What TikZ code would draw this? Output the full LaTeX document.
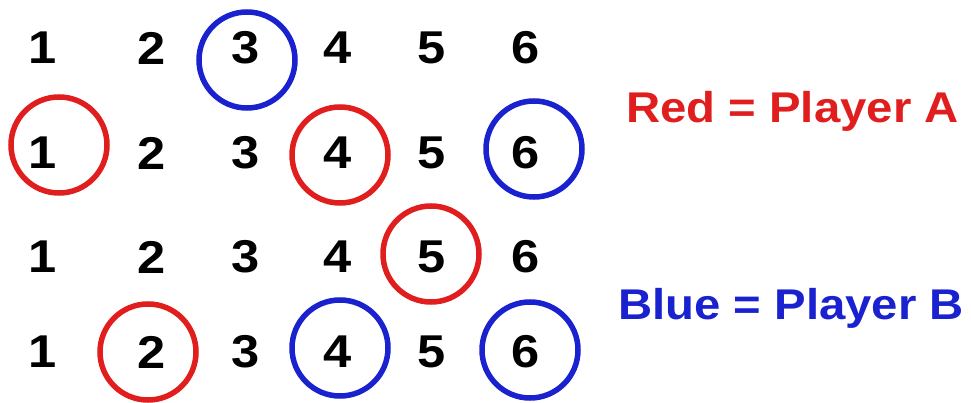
\documentclass[tikz,border=0pt]{standalone}
\usepackage{fontspec}
\setmainfont{Liberation Sans}[FakeStretch=1.1]
\usepackage{xcolor}
\definecolor{playerred}{HTML}{E01E1E}
\definecolor{playerblue}{HTML}{1A22D0}

\begin{document}
\begin{tikzpicture}[
    x=1pt, y=-1pt,
    digit/.style={inner sep=0pt, font=\fontsize{46}{50}\selectfont\bfseries},
    legend/.style={inner sep=0pt, anchor=base west,
      font=\fontsize{43}{48}\selectfont\bfseries},
    ring/.style={circle, draw, line width=5.5pt, minimum size=96pt, inner sep=0pt},
    redring/.style={ring, draw=playerred},
    bluering/.style={ring, draw=playerblue},
  ]
    \useasboundingbox (0,0) rectangle (971,403);

    % the four rows of dice values
    \foreach \row/\y in {1/48, 2/153, 3/257, 4/352}
      \foreach \col/\x in {1/43, 2/152, 3/246, 4/338, 5/432, 6/526}
        \node[digit] (n-\row-\col) at (\x,\y) {\col};

    % rings round the picked values
    \node[bluering] (b-1-3) at (247,60) {};
    \node[redring] (r-2-1) at (59,145) {};
    \node[redring] (r-2-4) at (340,155) {};
    \node[bluering] (b-2-6) at (534,149) {};
    \node[redring] (r-3-5) at (431,254) {};
    \node[redring] (r-4-2) at (148,352) {};
    \node[bluering] (b-4-4) at (340,348) {};
    \node[bluering] (b-4-6) at (530,350) {};

    % legend
    \node[legend, text=playerred] (keyA) at (626,123) {Red = Player A};
    \node[legend, text=playerblue] (keyB) at (618,319) {Blue = Player B};
  \end{tikzpicture}
\end{document}
